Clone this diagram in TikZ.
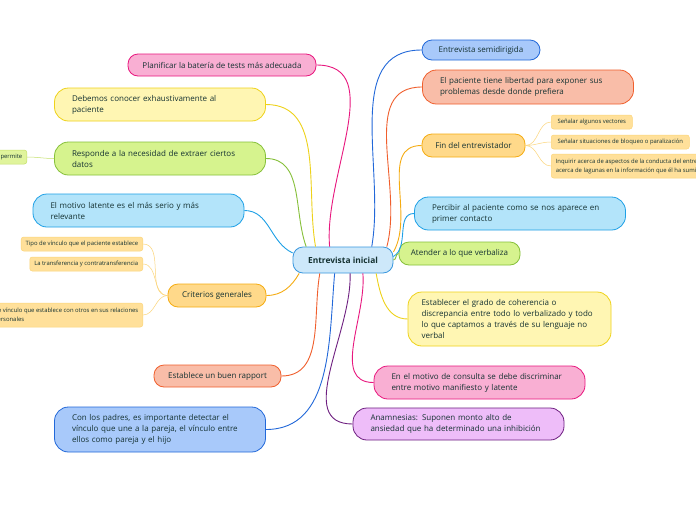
\documentclass[tikz,border=0pt]{standalone}
\usepackage{fontspec}
\setmainfont{Open Sans}

\definecolor{ink}{HTML}{153232}
\definecolor{centrefill}{HTML}{CDE8FA}
\definecolor{centreline}{HTML}{3897DE}
\definecolor{pinkfill}{HTML}{F9AFD3}
\definecolor{pinkline}{HTML}{E8177E}
\definecolor{yellowfill}{HTML}{FFF6B3}
\definecolor{yellowline}{HTML}{EED21A}
\definecolor{greenfill}{HTML}{D6F38E}
\definecolor{greenline}{HTML}{86C03A}
\definecolor{cyanfill}{HTML}{B3E4FA}
\definecolor{cyanline}{HTML}{1EA0E6}
\definecolor{orangefill}{HTML}{FFD98A}
\definecolor{orangeline}{HTML}{F5AC12}
\definecolor{salmonfill}{HTML}{F9BDA8}
\definecolor{salmonline}{HTML}{F05F2D}
\definecolor{bluefill}{HTML}{A8C9FA}
\definecolor{blueline}{HTML}{2268D9}
\definecolor{purplefill}{HTML}{EEBDF9}
\definecolor{purpleline}{HTML}{6E1F80}
\definecolor{leaffill}{HTML}{FFE09A}
\definecolor{leafline}{HTML}{FCD57A}
\definecolor{sproutfill}{HTML}{E0F49C}
\definecolor{sproutline}{HTML}{C4E06A}

\begin{document}
\begin{tikzpicture}[x=1pt,y=-1pt,
    topic/.style={draw,line width=0.8pt,text=ink,inner ysep=0pt,
      font=\fontsize{8}{11}\selectfont},
    pill/.style={topic,rounded corners=10pt,align=center},
    blob/.style={topic,rounded corners=14pt,align=left,inner xsep=17.5pt,text width=176pt},
    leaf/.style={draw=leafline,fill=leaffill,line width=0.5pt,rounded corners=2.5pt,text=ink,
      font=\fontsize{5.9}{9}\selectfont,align=left,inner xsep=4.5pt,inner ysep=0pt,minimum height=14pt},
    pink/.style={fill=pinkfill,draw=pinkline},
    yellow/.style={fill=yellowfill,draw=yellowline},
    green/.style={fill=greenfill,draw=greenline},
    cyan/.style={fill=cyanfill,draw=cyanline},
    orange/.style={fill=orangefill,draw=orangeline},
    salmon/.style={fill=salmonfill,draw=salmonline},
    blue/.style={fill=bluefill,draw=blueline},
    purple/.style={fill=purplefill,draw=purpleline},
    link/.style={line width=0.9pt},
    twig/.style={line width=0.5pt}]
  \useasboundingbox[fill=white] (0,0) rectangle (696,520);

  % centre
  \node[pill,fill=centrefill,draw=centreline,minimum width=100pt,minimum height=26pt,
    font=\fontsize{8.4}{10}\selectfont\bfseries] (centre) at (343,260) {Entrevista inicial};

  % right side
  \node[pill,blue,minimum width=118pt,minimum height=20pt] (semi) at (481,50) {Entrevista semidirigida};
  \node[blob,salmon,minimum height=34pt] (paciente) at (528,87)
    {El paciente tiene libertad para exponer sus\\problemas desde donde prefiera};
  \node[pill,orange,minimum width=103pt,minimum height=23pt] (fin) at (473.5,145.5) {Fin del entrevistador};
  \node[blob,cyan,minimum height=33pt] (percibir) at (520,213.5)
    {Percibir al paciente como se nos aparece en\\primer contacto};
  \node[pill,green,minimum width=121pt,minimum height=23pt] (atender) at (459.5,253.5) {Atender a lo que verbaliza};
  \node[blob,yellow,inner xsep=13.5pt,minimum height=54pt] (establecer) at (509.5,319)
    {Establecer el grado de coherencia o\\discrepancia entre todo lo verbalizado y todo\\lo que captamos a través de su lenguaje no\\verbal};
  \node[blob,pink,minimum height=33pt] (motivo) at (479.5,382.5)
    {En el motivo de consulta se debe discriminar\\entre motivo manifiesto y latente};
  \node[blob,purple,minimum height=32pt] (anamnesis) at (458.5,424)
    {Anamnesias: Suponen monto alto de\\ansiedad que ha determinado una inhibición};

  % left side
  \node[pill,pink,minimum width=188pt,minimum height=22pt] (plan) at (222,65)
    {Planificar la batería de tests más adecuada};
  \node[blob,yellow,minimum height=33pt] (debemos) at (160,104.5)
    {Debemos conocer exhaustivamente al\\paciente};
  \node[blob,green,minimum height=33pt] (responde) at (160,158.5)
    {Responde a la necesidad de extraer ciertos\\datos};
  \node[blob,cyan,minimum height=33pt] (latente) at (138.5,210.5)
    {El motivo latente es el más serio y más\\relevante};
  \node[pill,orange,minimum width=98pt,minimum height=23pt] (criterios) at (217,295.5) {Criterios generales};
  \node[pill,salmon,minimum width=127pt,minimum height=22pt] (rapport) at (217.5,376) {Establece un buen rapport};
  \node[blob,blue,minimum height=45pt] (padres) at (160,429.5)
    {Con los padres, es importante detectar el\\vínculo que une a la pareja, el vínculo entre\\ellos como pareja y el hijo};

  % leaves
  \node[leaf,anchor=west,minimum width=81pt] (vectores) at (551,122) {Señalar algunos vectores};
  \node[leaf,anchor=west,minimum width=138pt] (bloqueo) at (551,142) {Señalar situaciones de bloqueo o paralización};
  \node[leaf,anchor=west,minimum height=24pt] (inquirir) at (551,166)
    {Inquirir acerca de aspectos de la conducta del entrevistado y\\acerca de lagunas en la información que él ha suministrado};
  \node[leaf,anchor=east] (tipo) at (143,244) {Tipo de vínculo que el paciente establece};
  \node[leaf,anchor=east] (transfer) at (143,264) {La transferencia y contratransferencia};
  \node[leaf,anchor=east,minimum height=24pt] (otros) at (143,315)
    {Tipo de vínculo que establece con otros en sus relaciones\\interpersonales};
  \node[leaf,anchor=east,fill=sproutfill,draw=sproutline] (permite) at (27,157) {Si el paciente lo permite};

  % connectors
  \foreach \n/\a/\o/\c in {semi/25/80/blueline,paciente/17/75/salmonline,fin/9/60/orangeline,
      percibir/4/30/cyanline,atender/0/0/greenline,establecer/338/-80/yellowline,
      motivo/326/-85/pinkline,anamnesis/298/-88/purpleline} {
    \draw[link,\c] (centre.\a) to[out=\o,in=180] (\n.west);
  }
  \foreach \n/\a/\o/\c in {plan/135/95/pinkline,debemos/154/100/yellowline,responde/160/110/greenline,
      latente/172/155/cyanline,criterios/197/240/orangeline,rapport/210/260/salmonline,
      padres/238/265/blueline} {
    \draw[link,\c] (centre.\a) to[out=\o,in=0] (\n.east);
  }
  \foreach \n in {vectores,bloqueo,inquirir} {
    \draw[twig,leafline] (fin.east) to[out=0,in=180] (\n.west);
  }
  \foreach \n in {tipo,transfer,otros} {
    \draw[twig,leafline] (criterios.west) to[out=180,in=0] (\n.east);
  }
  \draw[twig,sproutline] (responde.west) to[out=180,in=0] (permite.east);
\end{tikzpicture}
\end{document}
